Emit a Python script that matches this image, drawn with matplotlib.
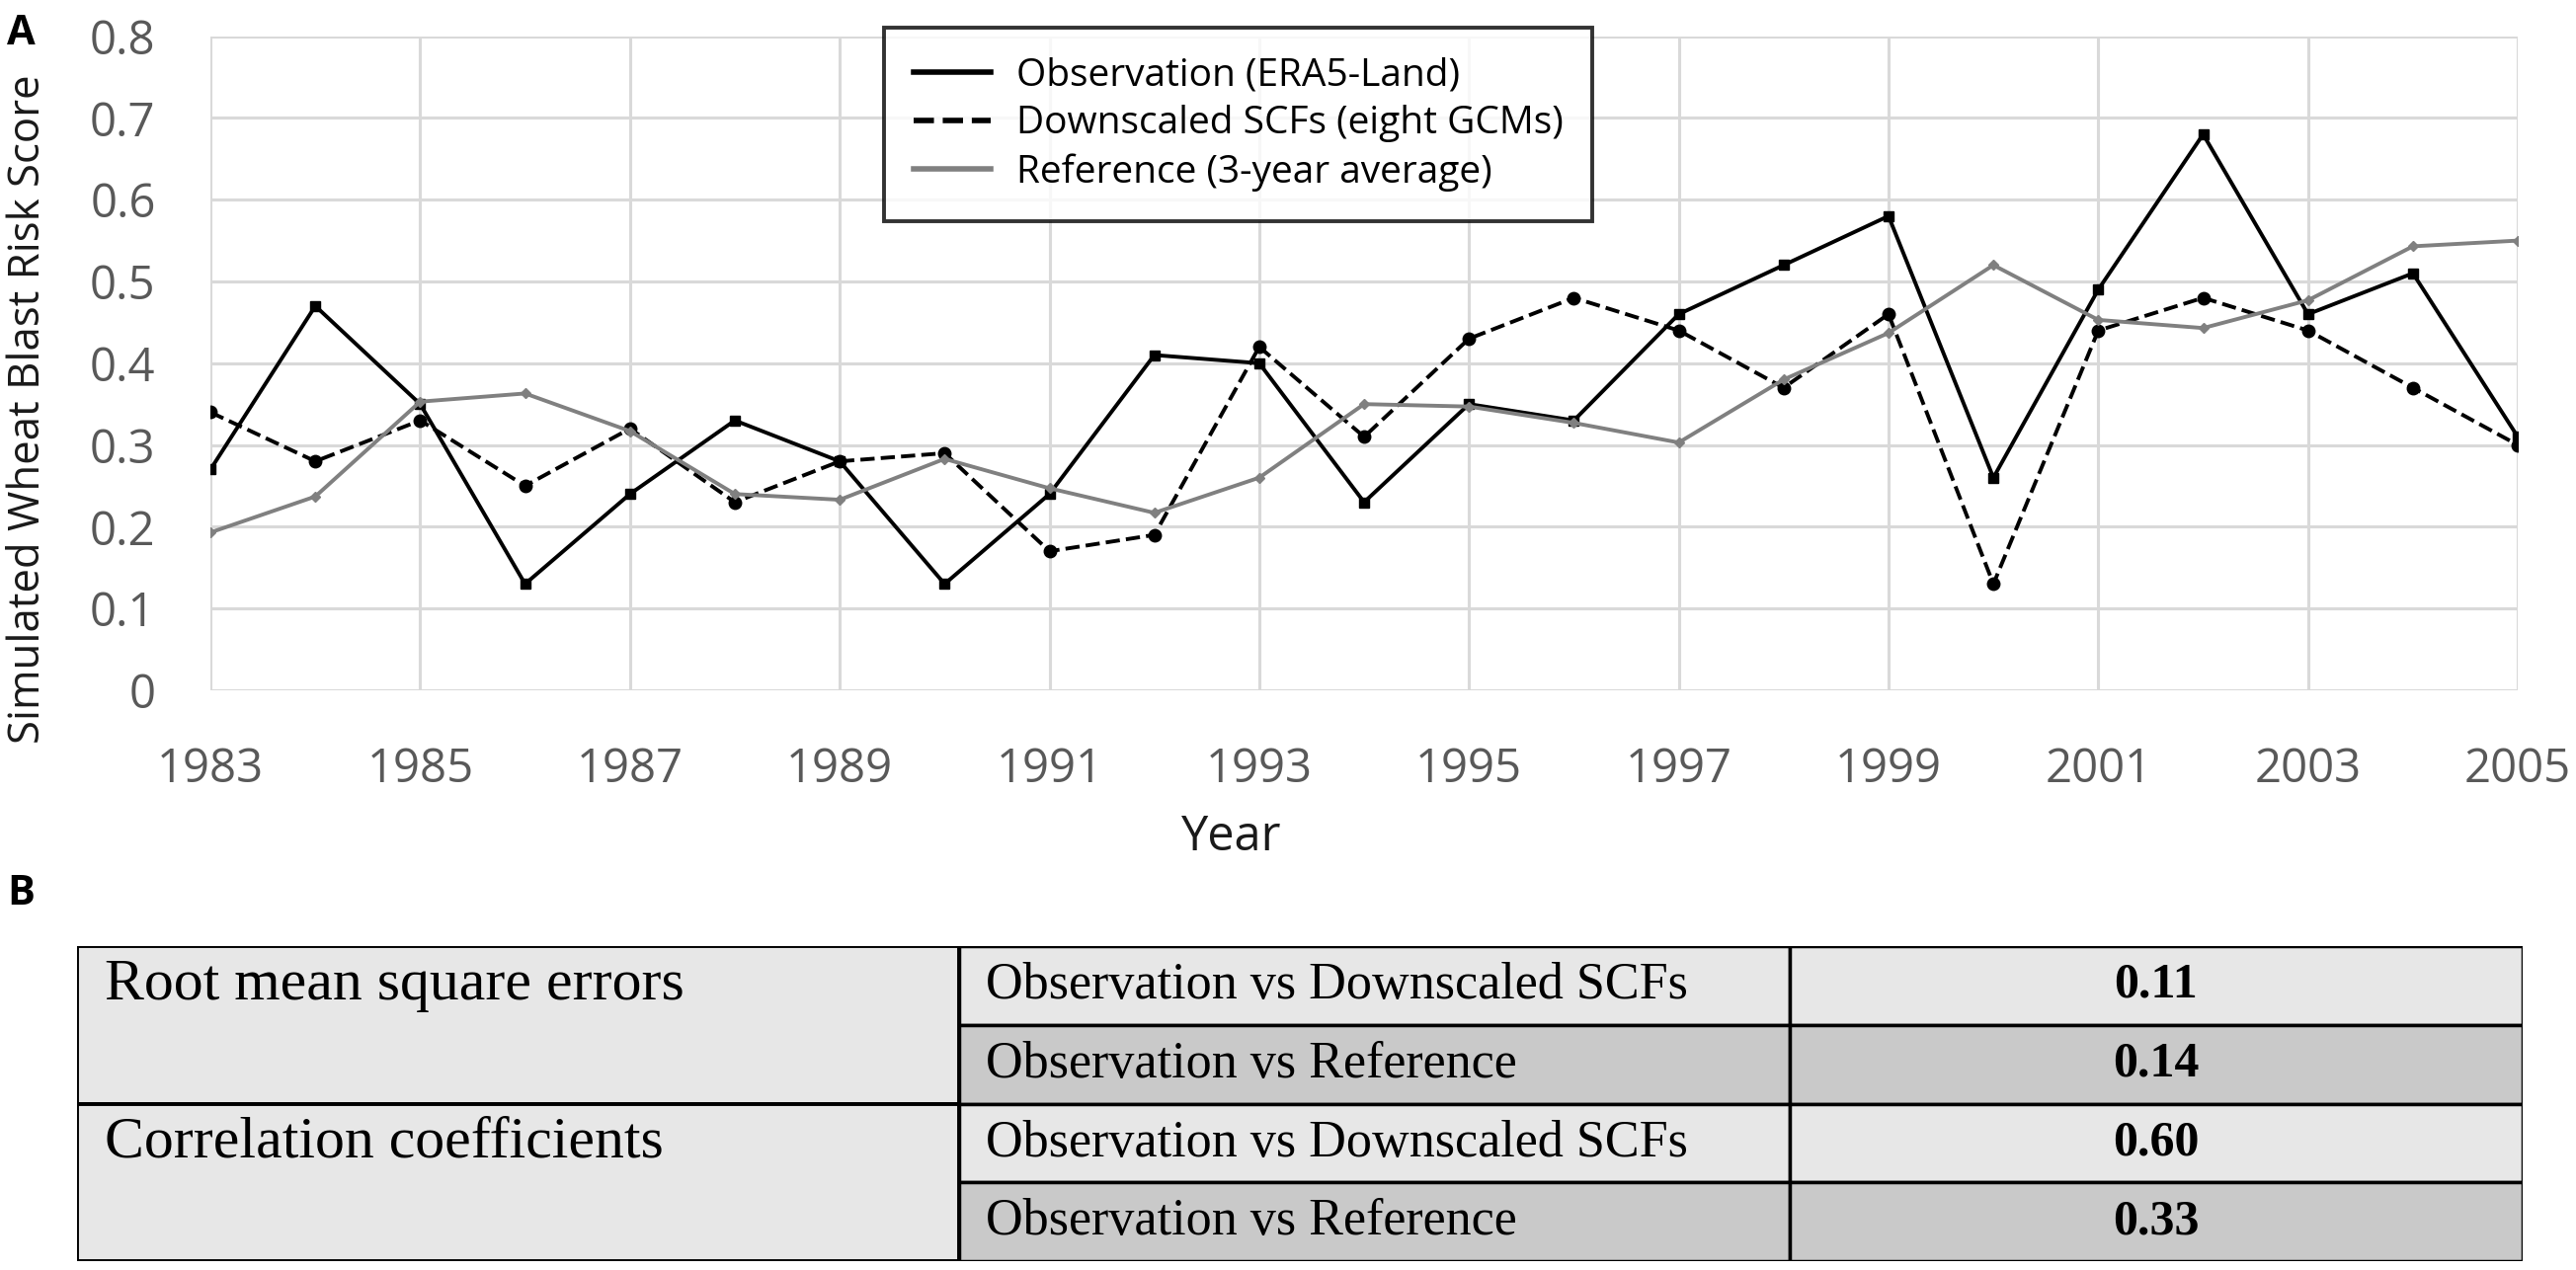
import numpy as np
import matplotlib.pyplot as plt
from matplotlib.patches import Rectangle

plt.rcParams['font.family'] = ['Open Sans', 'DejaVu Sans']

years = np.arange(1983, 2006)
observation = [0.27, 0.47, 0.35, 0.13, 0.24, 0.33, 0.28, 0.13, 0.24, 0.41, 0.40, 0.23,
               0.35, 0.33, 0.46, 0.52, 0.58, 0.26, 0.49, 0.68, 0.46, 0.51, 0.31]
downscaled = [0.34, 0.28, 0.33, 0.25, 0.32, 0.23, 0.28, 0.29, 0.17, 0.19, 0.42, 0.31,
              0.43, 0.48, 0.44, 0.37, 0.46, 0.13, 0.44, 0.48, 0.44, 0.37, 0.30]
reference = [0.193, 0.237, 0.353, 0.363, 0.317, 0.240, 0.233, 0.283, 0.247, 0.217, 0.260, 0.350,
             0.347, 0.327, 0.303, 0.380, 0.437, 0.520, 0.453, 0.443, 0.477, 0.543, 0.550]

legend_labels = ['Observation (ERA5-Land)', 'Downscaled SCFs (eight GCMs)', 'Reference (3-year average)']

# table B
groups = ['Root mean square errors', 'Correlation coefficients']
comparisons = ['Observation vs Downscaled SCFs', 'Observation vs Reference',
               'Observation vs Downscaled SCFs', 'Observation vs Reference']
stats = ['0.11', '0.14', '0.60', '0.33']

fig = plt.figure(figsize=(26.08, 12.86), dpi=100)

ax = fig.add_axes([0.0817, 0.4565, 0.8957, 0.515])
ax.plot(years, observation, '-', color='black', lw=2.8, marker='s', ms=7.5, label=legend_labels[0])
ax.plot(years, downscaled, '--', color='black', lw=2.8, marker='o', ms=9, label=legend_labels[1])
ax.plot(years, reference, '-', color='#808080', lw=2.8, marker='D', ms=5.5, label=legend_labels[2])

ax.set_xlim(1983, 2005)
ax.set_ylim(0, 0.8)
ax.set_xticks(np.arange(1983, 2006, 2))
ax.set_yticks(np.arange(0, 0.81, 0.1))
ax.set_yticklabels(['0' if v == 0 else f'{v:.1f}' for v in np.arange(0, 0.81, 0.1)])
ax.grid(True, color='#d9d9d9', lw=2.2)
ax.set_axisbelow(True)
for s in ax.spines.values():
    s.set_visible(False)
ax.tick_params(length=0, labelsize=34, labelcolor='#595959')
ax.tick_params(axis='y', pad=40)
ax.tick_params(axis='x', pad=41)
ax.set_xlabel('Year', fontsize=35, color='#1a1a1a')
ax.xaxis.set_label_coords(0.4426, -0.225)
ax.xaxis.label.set_va('center')
ax.set_ylabel('Simulated Wheat Blast Risk Score', fontsize=31.5, color='#1a1a1a')
ax.yaxis.set_label_coords(-0.079, 0.43)
ax.yaxis.label.set_va('center')

leg = ax.legend(loc='upper left', bbox_to_anchor=(0.292, 1.013), fontsize=28, frameon=True,
                fancybox=False, edgecolor='black', handlelength=2.0, handletextpad=0.67,
                borderpad=0.76, labelspacing=0.28, borderaxespad=0)
leg.get_frame().set_linewidth(2.8)
for h in leg.legend_handles:
    h.set_marker('')
    h.set_linewidth(4)

fig.text(0.0027, 0.973, 'A', fontsize=30, fontweight='bold', va='center', ha='left')
fig.text(0.0027, 0.2955, 'B', fontsize=30, fontweight='bold', va='center', ha='left')

# table drawn in its own axes
tax = fig.add_axes([0.0299, 0.0068, 0.9494, 0.2482])
tax.set_xlim(0, 1)
tax.set_ylim(0, 4)
tax.axis('off')
c1, c2 = 0.3607, 0.7003
light, dark = '#e7e7e7', '#c9c9c9'
serif = ['Liberation Serif', 'DejaVu Serif']
for i, (comp, val) in enumerate(zip(comparisons, stats)):
    top = 4 - i
    fc = light if i % 2 == 0 else dark
    tax.add_patch(Rectangle((c1, top - 1), c2 - c1, 1, facecolor=fc, edgecolor='black', lw=2.5))
    tax.add_patch(Rectangle((c2, top - 1), 1 - c2, 1, facecolor=fc, edgecolor='black', lw=2.5))
    tax.text(c1 + 0.011, top - 0.5, comp, fontsize=37.5, family=serif, va='center', ha='left')
    tax.text((c2 + 1) / 2, top - 0.5, val, fontsize=36, family=serif, fontweight='bold',
             va='center', ha='center')
for g, name in enumerate(groups):
    top = 4 - 2 * g
    tax.add_patch(Rectangle((0, top - 2), c1, 2, facecolor=light, edgecolor='black', lw=2.8))
    tax.text(0.0113, top - 0.5, name, fontsize=43, family=serif, va='center', ha='left')

fig.savefig('out.png', dpi=100)
